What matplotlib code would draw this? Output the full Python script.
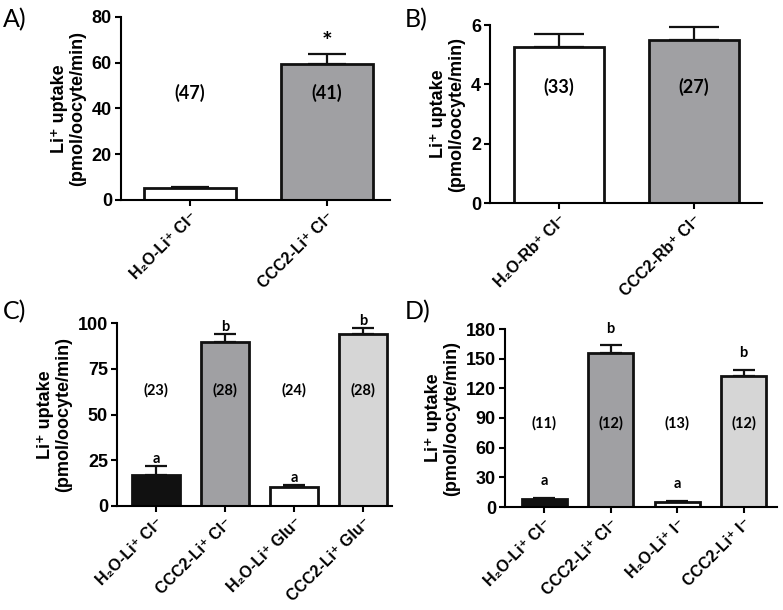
import matplotlib
matplotlib.use("Agg")
import matplotlib.pyplot as plt

# ---------------------------------------------------------------------------
# Data (mean, upper SEM, group size n)
# ---------------------------------------------------------------------------
a_groups = ["H\u2082O-Li\u207a Cl\u207b", "CCC2-Li\u207a Cl\u207b"]
a_means = [5.1, 59.6]
a_sem = [0.4, 4.2]
a_n = ["(47)", "(41)"]
a_marks = ["", "*"]

b_groups = ["H\u2082O-Rb\u207a Cl\u207b", "CCC2-Rb\u207a Cl\u207b"]
b_means = [5.27, 5.51]
b_sem = [0.41, 0.43]
b_n = ["(33)", "(27)"]
b_marks = ["", ""]

c_groups = ["H\u2082O-Li\u207a Cl\u207b", "CCC2-Li\u207a Cl\u207b",
            "H\u2082O-Li\u207a Glu\u207b", "CCC2-Li\u207a Glu\u207b"]
c_means = [16.9, 89.6, 10.2, 94.2]
c_sem = [5.1, 4.6, 1.3, 3.3]
c_n = ["(23)", "(28)", "(24)", "(28)"]
c_marks = ["a", "b", "a", "b"]

d_groups = ["H\u2082O-Li\u207a Cl\u207b", "CCC2-Li\u207a Cl\u207b",
            "H\u2082O-Li\u207a I\u207b", "CCC2-Li\u207a I\u207b"]
d_means = [8.4, 155.6, 5.4, 132.6]
d_sem = [0.8, 7.8, 0.6, 6.1]
d_n = ["(11)", "(12)", "(13)", "(12)"]
d_marks = ["a", "b", "a", "b"]

BLACK = "#111111"
DARK = "#a0a0a3"
WHITE = "#ffffff"
LIGHT = "#d6d6d6"

TICK_FONT = ["Liberation Sans", "DejaVu Sans"]
LABEL_FONT = ["Lato", "DejaVu Sans"]


def draw_panel(ax, groups, means, sem, n_labels, marks, colors,
               ylim, yticks, xlim, width, n_y, n_size, capsize, mark_off, mark_size):
    x = list(range(len(groups)))
    ax.errorbar(x, means, yerr=[[0] * len(sem), sem], fmt="none", ecolor=BLACK,
                elinewidth=1.6, capsize=capsize, capthick=1.6, zorder=1)
    ax.bar(x, means, width=width, color=colors, edgecolor=BLACK, linewidth=2.0, zorder=2)

    for xi, lab in zip(x, n_labels):
        ax.text(xi, n_y, lab, ha="center", va="center", fontsize=n_size,
                fontweight="bold", family=LABEL_FONT, zorder=3)
    for xi, m, s, mk in zip(x, means, sem, marks):
        if mk:
            ax.annotate(mk, (xi, m + s), xytext=(0, mark_off), textcoords="offset points",
                        ha="center", va="bottom", fontsize=mark_size,
                        fontweight="bold", family=LABEL_FONT)

    ax.set_xlim(*xlim)
    ax.set_ylim(*ylim)
    ax.set_yticks(yticks)
    ax.set_xticks(x)
    ax.set_xticklabels(groups, rotation=45, ha="right", rotation_mode="anchor",
                       fontsize=11.5, fontweight="bold", family=TICK_FONT)
    for t in ax.get_yticklabels():
        t.set_fontsize(13)
        t.set_fontweight("bold")
        t.set_family(TICK_FONT)
    ax.set_ylabel("Li\u207a uptake\n(pmol/oocyte/min)", fontsize=13, fontweight="bold",
                  family=TICK_FONT, linespacing=1.1, labelpad=4)

    ax.spines["top"].set_visible(False)
    ax.spines["right"].set_visible(False)
    ax.spines["left"].set_linewidth(1.5)
    ax.spines["bottom"].set_linewidth(1.5)
    ax.tick_params(axis="both", direction="out", length=4.5, width=1.5, pad=2)


fig = plt.figure(figsize=(7.83, 6.10), dpi=100)
W, H = 783.0, 610.0


def make_axes(left, right, top, bottom):
    return fig.add_axes([left / W, 1 - bottom / H, (right - left) / W, (bottom - top) / H])


ax_a = make_axes(121, 390, 17, 200)
ax_b = make_axes(490, 762, 25, 203)
ax_c = make_axes(117, 392, 323, 506)
ax_d = make_axes(505, 777, 329, 507)

draw_panel(ax_a, a_groups, a_means, a_sem, a_n, a_marks, [WHITE, DARK],
           (0, 80), [0, 20, 40, 60, 80], (-0.504, 1.46), 0.67, 46.8, 13, 14, 0, 18)
draw_panel(ax_b, b_groups, b_means, b_sem, b_n, b_marks, [WHITE, DARK],
           (0, 6), [0, 2, 4, 6], (-0.51, 1.504), 0.667, 3.9, 13, 18, 3, 12)
draw_panel(ax_c, c_groups, c_means, c_sem, c_n, c_marks, [BLACK, DARK, WHITE, LIGHT],
           (0, 100), [0, 25, 50, 75, 100], (-0.565, 3.42), 0.69, 63, 10.5, 8, 0, 10.5)
draw_panel(ax_d, d_groups, d_means, d_sem, d_n, d_marks, [BLACK, DARK, WHITE, LIGHT],
           (0, 180), [0, 30, 60, 90, 120, 150, 180], (-0.59, 3.5), 0.68, 85, 10.5, 8, 7, 10.5)

# panel letters
for txt, px, py in [("A)", 3, 20), ("B)", 405, 20), ("C)", 3, 312), ("D)", 405, 312)]:
    fig.text(px / W, 1 - py / H, txt, fontsize=18, family=LABEL_FONT, va="center", ha="left")

fig.savefig("out.png", dpi=100)
